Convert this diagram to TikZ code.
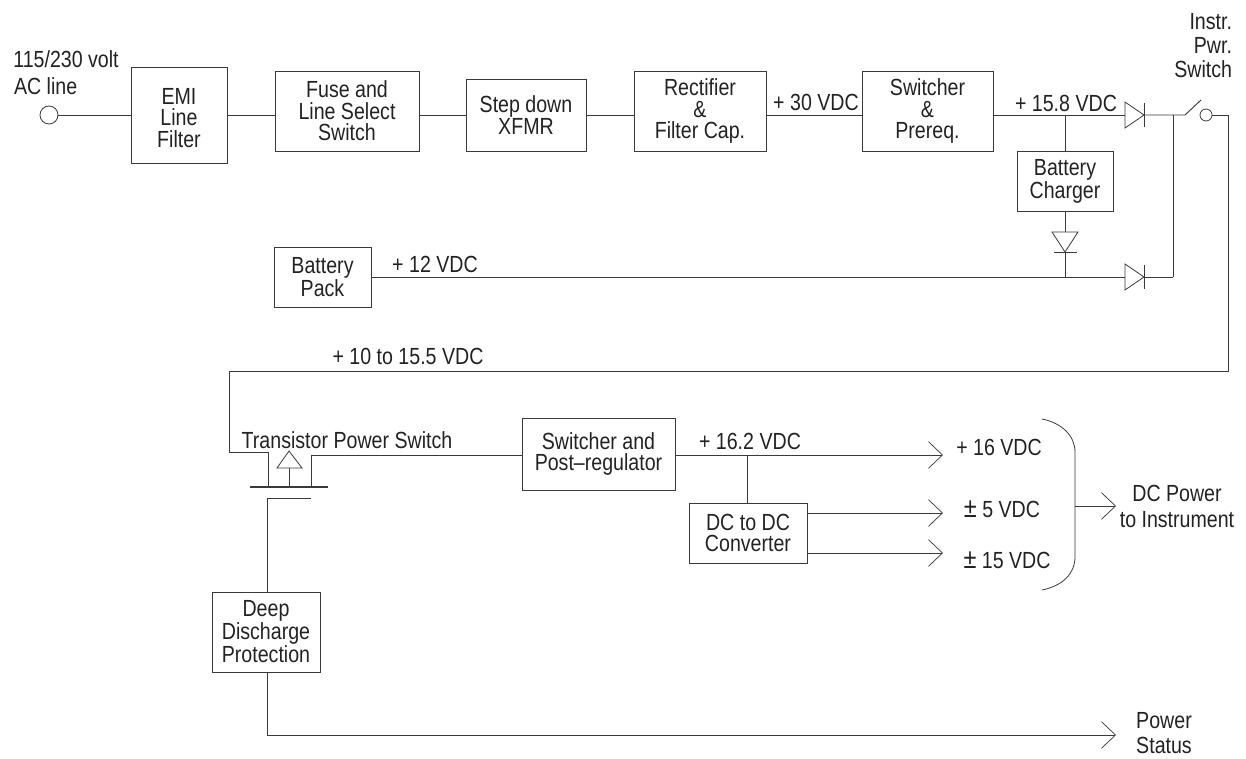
\documentclass[tikz,border=0pt]{standalone}
\usepackage{fontspec}
\setmainfont[FakeStretch=0.84]{Liberation Sans}
\usetikzlibrary{arrows.meta}
\definecolor{ink}{HTML}{222222}
\definecolor{wire}{HTML}{3A3A3A}
\newcommand{\plusminus}{{\fontsize{21}{16}\selectfont ±}}
\tikzset{
  lbl/.style={font=\fontsize{17.5}{16.2}\selectfont,text=ink,inner sep=0pt,outer sep=0pt,align=center},
  blockbox/.style={draw=wire,line width=0.7pt,inner sep=0pt,outer sep=0pt},
  conn/.style={draw=wire,line width=0.7pt},
  arr/.style={conn,-{Straight Barb[length=10.5pt,width=20pt,line width=0.55pt]}},
  sym/.style={draw=wire,line width=0.6pt,fill=white,line join=miter},
}
% name, x1, y1, x2, y2, text dy, text
\newcommand{\blockat}[7]{%
  \node[blockbox,minimum width={(#4-#2)*0.75pt},minimum height={(#5-#3)*0.75pt},
    label={[lbl,yshift={-(#6)*0.75pt}]center:{#7}}] (#1) at ({(#2+#4)/2},{(#3+#5)/2}) {};}
\begin{document}
\begin{tikzpicture}[x=0.75pt,y=-0.75pt]
\useasboundingbox (0,0) rectangle (1246,759);
% blocks
\blockat{emi}{131}{67}{227}{163}{3}{EMI\\Line\\Filter}
\blockat{fuse}{275}{71}{419}{151}{0}{Fuse and\\Line Select\\Switch}
\blockat{xfmr}{466}{79}{586}{151}{0}{Step down\\XFMR}
\blockat{rect}{634}{71}{766}{151}{0}{Rectifier\\\&\\Filter Cap.}
\blockat{swpre}{862}{71}{993}{151}{0}{Switcher\\\&\\Prereq.}
\blockat{chg}{1017}{151}{1113}{211}{0}{Battery\\Charger}
\blockat{pack}{274}{247}{371}{307}{0}{Battery\\Pack}
\blockat{post}{522}{418}{675}{490}{0}{Switcher and\\Post--regulator}
\blockat{dcdc}{689}{503}{807}{563}{0}{DC to DC\\Converter}
\blockat{deep}{212}{592}{320}{672}{0}{Deep\\Discharge\\Protection}
% free labels
\node[lbl,align=left,anchor=center] (acl1) at (66,59) {115/230 volt};
\node[lbl,align=left,anchor=west] (acl2) at (14,86) {AC line};
\node[lbl,align=right,anchor=east,font=\fontsize{17.5}{18}\selectfont] (instr) at (1232,46) {Instr.\\Pwr.\\Switch};
\node[lbl] (v30) at (816,102) {+ 30 VDC};
\node[lbl] (v158) at (1066,103) {+ 15.8 VDC};
\node[lbl] (v12) at (435,264) {+ 12 VDC};
\node[lbl] (v10) at (408,356) {+ 10 to 15.5 VDC};
\node[lbl] (tps) at (347,440) {Transistor Power Switch};
\node[lbl] (v162) at (750,441) {+ 16.2 VDC};
\node[lbl] (v16) at (999,447) {+ 16 VDC};
\node[lbl] (v5) at (1002,509) {\plusminus\ 5 VDC};
\node[lbl] (v15) at (1007,560) {\plusminus\ 15 VDC};
\node[lbl,font=\fontsize{17.5}{19.5}\selectfont] (dcp) at (1177,506) {DC Power\\to Instrument};
\node[lbl,font=\fontsize{17.5}{18.5}\selectfont] (pst) at (1164,733) {Power\\Status};
% coordinates
\coordinate (acin) at (49,115);
\coordinate (j158) at (1065,115);
\coordinate (d1a) at (1125,115); \coordinate (d1k) at (1144,115);
\coordinate (d2a) at (1125,277); \coordinate (d2k) at (1144,277);
\coordinate (d3a) at (1065,232); \coordinate (d3k) at (1065,252);
\coordinate (sum) at (1173,115); \coordinate (sumb) at (1173,277);
\coordinate (swa) at (1185,115); \coordinate (swb) at (1201,100);
\coordinate (swc) at (1206,115);
\coordinate (jb) at (1065,277);
\coordinate (topr) at (1228,115); \coordinate (botr) at (1228,371);
\coordinate (botl) at (229,371); \coordinate (srcl) at (229,452);
\coordinate (src) at (268,452); \coordinate (srcb) at (268,487);
\coordinate (bl) at (250,487); \coordinate (br) at (328,487);
\coordinate (drb) at (311,487); \coordinate (drt) at (311,455);
\coordinate (gl) at (267,498); \coordinate (gr) at (311,498);
\coordinate (ts) at (289,487); \coordinate (tb) at (289,468);
\coordinate (j162) at (747,455);
\coordinate (a16) at (943,455); \coordinate (a5) at (943,513); \coordinate (a15) at (943,553);
\coordinate (bt) at (1042,419); \coordinate (bb) at (1042,590);
\coordinate (bm) at (1075,506); \coordinate (adc) at (1116,506);
\coordinate (dl) at (267,735); \coordinate (apw) at (1116,735);
% top row wiring
\node[draw=wire,line width=0.6pt,circle,minimum size=13.5pt,inner sep=0pt,outer sep=0pt] (ac) at (acin) {};
\draw[conn] (ac.east) -- (emi.west |- ac.east);
\draw[conn] (emi.east |- acin) -- (fuse.west |- acin);
\draw[conn] (fuse.east |- acin) -- (xfmr.west |- acin);
\draw[conn] (xfmr.east |- acin) -- (rect.west |- acin);
\draw[conn] (rect.east |- acin) -- (swpre.west |- acin);
\draw[conn] (swpre.east |- acin) -- (d1a);
\draw[conn] (j158) -- (chg.north -| j158);
\draw[conn] (d1k) -- (swa) -- (swb);
\draw[conn] (sum) -- (sumb);
\node[draw=wire,line width=0.6pt,circle,minimum size=9pt,inner sep=0pt,outer sep=0pt] (swo) at (swc) {};
\draw[conn] (swo.east) -- (topr) -- (botr) -- (botl) -- (srcl) -- (src) -- (srcb);
% diodes
\draw[conn] (chg.south -| j158) -- (d3a);
\draw[conn] (d3k) -- (jb);
\draw[conn] (pack.east |- jb) -- (d2a);
\draw[conn] (d2k) -- (sumb);
\draw[sym] (d1a) ++(0,-13) -- (d1k) -- (1125,128) -- cycle;
\draw[sym] (1144,103) -- (1144,127);
\draw[sym] (d2a) ++(0,-13) -- (d2k) -- (1125,290) -- cycle;
\draw[sym] (1144,265) -- (1144,289);
\draw[sym] (1052,232) -- (d3k) -- (1078,232) -- cycle;
\draw[sym] (1054,252) -- (1077,252);
% transistor
\draw[conn,line width=1pt] (bl) -- (br);
\draw[conn] (drb) -- (drt) -- (post.west |- drt);
\draw[conn] (ts) -- (tb);
\draw[sym] (277,468) -- (289,451) -- (302,468) -- cycle;
\draw[conn] (gr) -- (gl) -- (deep.north -| gl);
% lower right
\draw[arr] (post.east |- a16) -- (a16);
\draw[conn] (j162) -- (dcdc.north -| j162);
\draw[arr] (dcdc.east |- a5) -- (a5);
\draw[arr] (dcdc.east |- a15) -- (a15);
\draw[conn,line width=0.6pt] (bt) .. controls (1062,423) and (1075,436) .. (1075,452) -- (1075,557) .. controls (1075,574) and (1062,586) .. (bb);
\draw[arr] (bm) -- (adc);
\draw[conn] (deep.south -| dl) -- (dl);
\draw[arr] (dl) -- (apw);
\end{tikzpicture}
\end{document}
